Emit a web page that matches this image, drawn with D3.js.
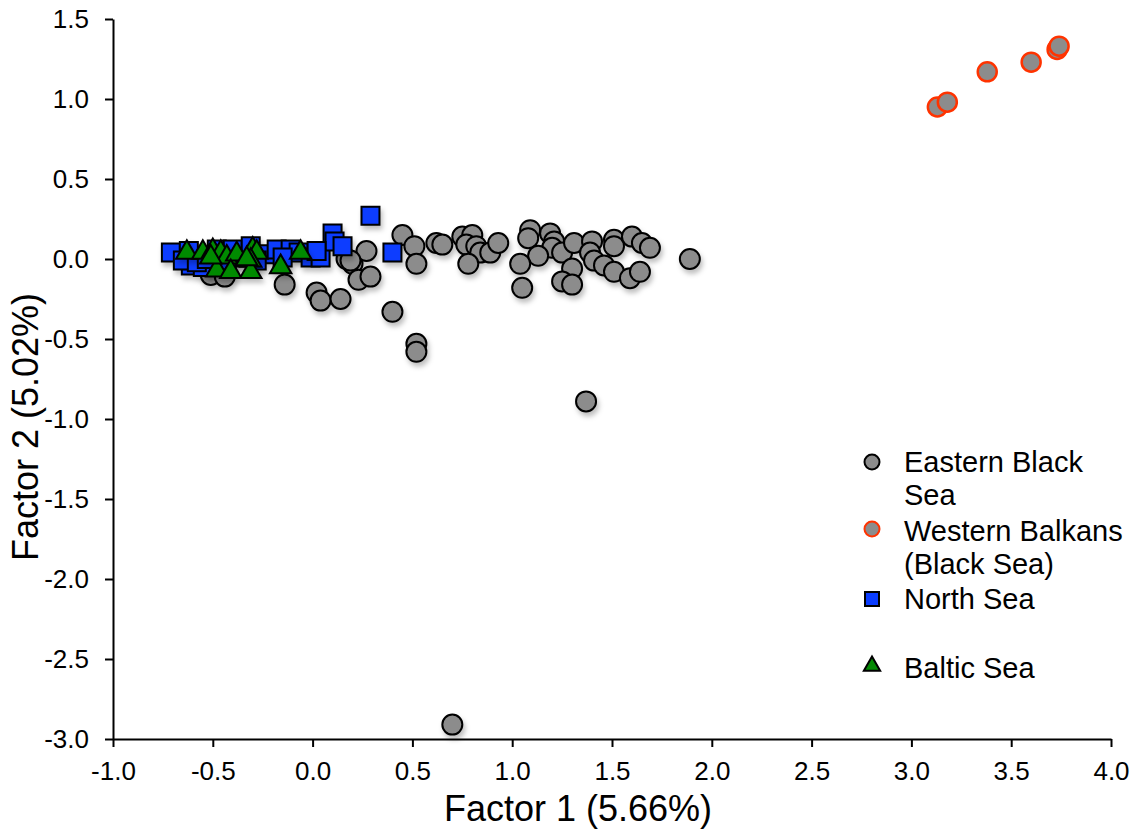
<!DOCTYPE html>
<html>
<head>
<meta charset="utf-8">
<script src="https://cdn.jsdelivr.net/npm/d3@7"></script>
<style>
  body { margin: 0; background: #fff; }
  svg { display: block; font-family: "Liberation Sans", Arial, Helvetica, sans-serif; }
</style>
</head>
<body>
<svg id="chart" width="1134" height="836"></svg>
<script>
// factor scores, [factor1, factor2]
const eastBlackSea = [
  [-0.51, -0.10], [-0.44, -0.11], [-0.14, -0.16], [0.02, -0.21], [0.04, -0.26],
  [0.14, -0.25], [0.17, 0.00], [0.20, -0.03], [0.27, 0.05], [0.23, -0.13],
  [0.29, -0.11], [0.40, -0.33], [0.45, 0.15], [0.51, 0.08], [0.52, -0.03],
  [0.52, -0.53], [0.52, -0.58], [0.62, 0.10], [0.65, 0.09], [0.75, 0.14],
  [0.80, 0.15], [0.77, 0.09], [0.82, 0.08], [0.84, 0.04], [0.78, -0.03],
  [0.89, 0.04], [0.93, 0.10], [1.09, 0.18], [1.08, 0.13], [1.19, 0.16],
  [1.21, 0.11], [1.20, 0.07], [1.13, 0.02], [1.04, -0.03], [1.05, -0.18],
  [1.25, 0.04], [1.31, 0.10], [1.40, 0.11], [1.39, 0.04], [1.41, -0.01],
  [1.51, 0.12], [1.51, 0.08], [1.46, -0.04], [1.51, -0.08], [1.59, -0.12],
  [1.64, -0.08], [1.60, 0.14], [1.65, 0.10], [1.69, 0.07], [1.30, -0.06],
  [1.25, -0.14], [1.30, -0.16], [1.89, 0.00], [1.37, -0.89], [0.70, -2.91],
  [0.19, -0.01]
]
const westBalkans = [
  [3.13, 0.95], [3.18, 0.98], [3.38, 1.17], [3.60, 1.23], [3.73, 1.31], [3.74, 1.33]
]
const northSea = [
  [-0.71, 0.04], [-0.62, 0.05], [-0.61, -0.04], [-0.55, -0.05], [-0.48, 0.06],
  [-0.40, 0.06], [-0.35, 0.01], [-0.31, 0.08], [-0.23, 0.03], [-0.18, 0.06],
  [-0.11, 0.06], [-0.07, 0.04], [-0.01, 0.01], [0.04, 0.01], [0.10, 0.16],
  [0.11, 0.11], [0.15, 0.08], [0.29, 0.27], [0.40, 0.04], [-0.65, -0.01],
  [-0.58, -0.02], [-0.43, -0.01], [-0.28, -0.01], [-0.15, 0.01], [0.02, 0.05],
  [-0.53, 0.00]
]
const balticSea = [
  [-0.63, 0.04], [-0.55, 0.04], [-0.50, 0.05], [-0.46, 0.04], [-0.43, 0.01],
  [-0.38, 0.03], [-0.30, 0.06], [-0.28, 0.04], [-0.31, -0.01], [-0.48, -0.07],
  [-0.41, -0.08], [-0.31, -0.08], [-0.16, -0.05], [-0.06, 0.04], [-0.51, 0.01],
  [-0.33, 0.00]
]
const xTicks = [-1.0, -0.5, 0.0, 0.5, 1.0, 1.5, 2.0, 2.5, 3.0, 3.5, 4.0]
const yTicks = [1.5, 1.0, 0.5, 0.0, -0.5, -1.0, -1.5, -2.0, -2.5, -3.0]
const legendLines = [
  ['Eastern Black', 'Sea'],
  ['Western Balkans', '(Black Sea)'],
  ['North Sea'],
  ['Baltic Sea']
]

const svg = d3.select('#chart')
const padLeft = 113, padRight = 1111, padTop = 19, padBottom = 739

let x = d3.scaleLinear().domain([-1, 4]).range([padLeft, padRight])
let y = d3.scaleLinear().domain([-3, 1.5]).range([padBottom, padTop])

// soft shadow like the spreadsheet markers
let defs = svg.append('defs')
defs.append('filter').attr('id', 'shadow')
  .attr('x', '-50%').attr('y', '-50%').attr('width', '200%').attr('height', '200%')
  .append('feDropShadow')
  .attr('dx', 2).attr('dy', 4).attr('stdDeviation', 2.5)
  .attr('flood-color', '#000').attr('flood-opacity', 0.25)

// axes
let fmt = d => d3.format('.1f')(d).replace('\u2212', '-')
let xAxis = svg.append('g')
  .attr('transform', `translate(0,${padBottom})`)
  .call(d3.axisBottom(x).tickValues(xTicks).tickFormat(fmt)
    .tickSize(8).tickSizeOuter(0).tickPadding(15))
let yAxis = svg.append('g')
  .attr('transform', `translate(${padLeft},0)`)
  .call(d3.axisLeft(y).tickValues(yTicks).tickFormat(fmt)
    .tickSize(8).tickSizeOuter(0).tickPadding(16))

svg.selectAll('.domain, .tick line').attr('stroke', '#000').attr('stroke-width', 2)
svg.selectAll('.tick text')
  .attr('fill', '#000')
  .style('font-size', '26px')
  .style('font-family', '"Liberation Sans", Arial, sans-serif')

// titles
svg.append('text')
  .attr('x', 578).attr('y', 821)
  .attr('text-anchor', 'middle')
  .style('font-size', '36px')
  .text('Factor 1 (5.66%)')
svg.append('text')
  .attr('transform', 'translate(38,427) rotate(-90)')
  .attr('text-anchor', 'middle')
  .style('font-size', '36px')
  .text('Factor 2 (5.02%)')

// marks
let sym = (type, size) => d3.symbol().type(type).size(size)

let plot = svg.append('g')

plot.append('g').attr('filter', 'url(#shadow)')
  .selectAll('circle').data(eastBlackSea).join('circle')
  .attr('cx', d => x(d[0])).attr('cy', d => y(d[1])).attr('r', 10)
  .attr('fill', '#8c8c8c').attr('stroke', '#000').attr('stroke-width', 2)

plot.append('g')
  .selectAll('circle').data(westBalkans).join('circle')
  .attr('cx', d => x(d[0])).attr('cy', d => y(d[1])).attr('r', 9.5)
  .attr('fill', '#8c8c8c').attr('stroke', '#ff3300').attr('stroke-width', 2.5)

plot.append('g').attr('filter', 'url(#shadow)')
  .selectAll('path').data(northSea).join('path')
  .attr('transform', d => `translate(${x(d[0])},${y(d[1])})`)
  .attr('d', sym(d3.symbolSquare, 18 * 18))
  .attr('fill', '#0a3cff').attr('stroke', '#000').attr('stroke-width', 2)

plot.append('g').attr('filter', 'url(#shadow)')
  .selectAll('path').data(balticSea).join('path')
  .attr('transform', d => `translate(${x(d[0])},${y(d[1])})`)
  .attr('d', sym(d3.symbolTriangle, 200))
  .attr('fill', '#058a05').attr('stroke', '#000').attr('stroke-width', 2)

// legend
let legendItems = [
  { lines: legendLines[0], mark: 'circle', fill: '#8c8c8c', stroke: '#000', my: 462, ty: 472 },
  { lines: legendLines[1], mark: 'circle', fill: '#8c8c8c', stroke: '#ff3300', my: 529, ty: 541 },
  { lines: legendLines[2], mark: 'square', fill: '#0a3cff', stroke: '#000', my: 599, ty: 609 },
  { lines: legendLines[3], mark: 'triangle', fill: '#058a05', stroke: '#000', my: 666, ty: 678 }
]
let legend = svg.append('g')
legendItems.forEach(it => {
  let g = legend.append('g')
  let m
  if (it.mark === 'circle') {
    m = g.append('circle').attr('cx', 872).attr('cy', it.my).attr('r', 7.5)
  } else {
    let t = it.mark === 'square' ? d3.symbolSquare : d3.symbolTriangle
    let s = it.mark === 'square' ? 14 * 14 : 115
    m = g.append('path').attr('transform', `translate(872,${it.my})`).attr('d', sym(t, s))
  }
  m.attr('fill', it.fill).attr('stroke', it.stroke).attr('stroke-width', 2)
  let tx = g.append('text').attr('x', 904).attr('y', it.ty).style('font-size', '29px')
  it.lines.forEach((l, i) => {
    tx.append('tspan').attr('x', 904).attr('dy', i === 0 ? 0 : 33).text(l)
  })
})
</script>
</body>
</html>
